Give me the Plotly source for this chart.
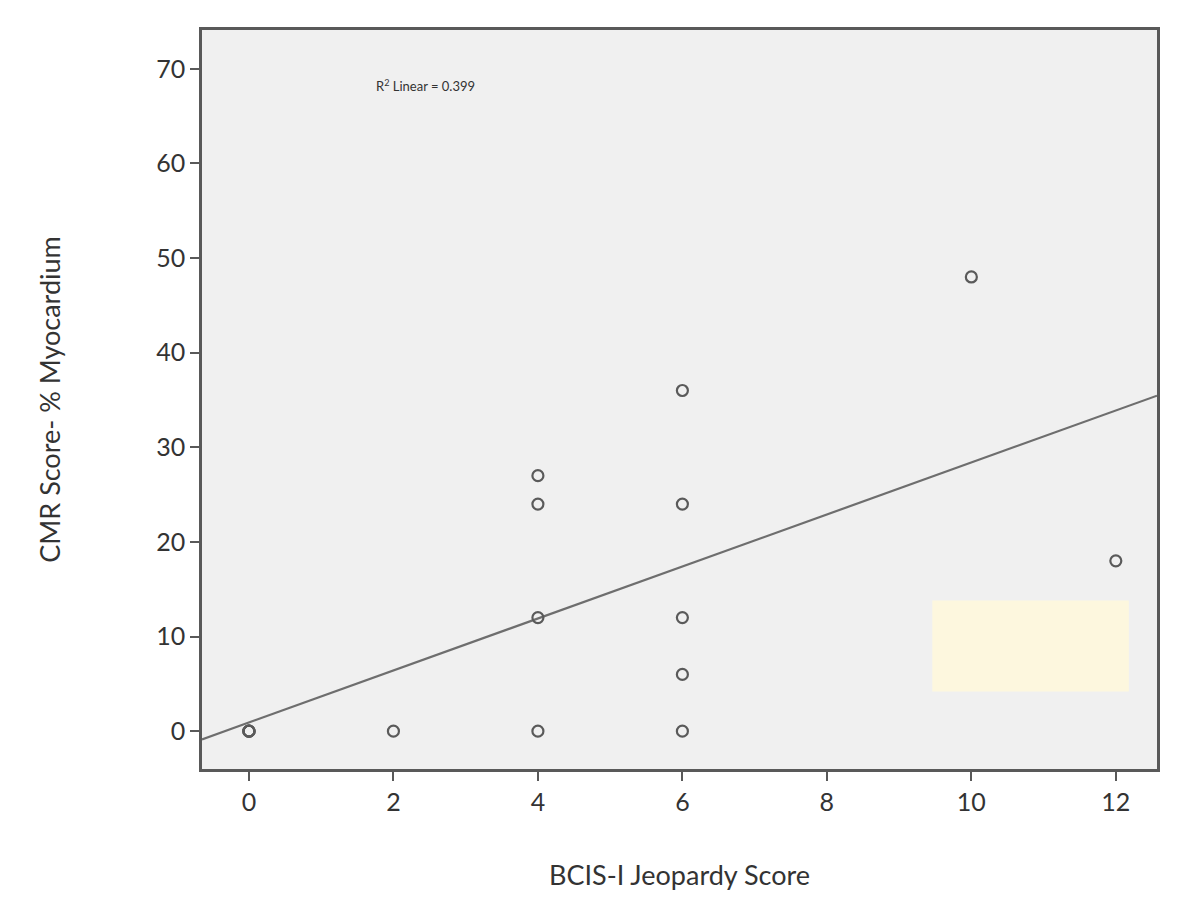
import numpy as np
import plotly.graph_objects as go

# Data (BCIS-I Jeopardy Score vs CMR Score)
bcis_score = [0, 0, 0, 0, 2, 4, 4, 4, 4, 6, 6, 6, 6, 6, 10, 12]
cmr_score = [0, 0, 0, 0, 0, 0, 12, 24, 27, 0, 6, 12, 24, 36, 48, 18]
x_ticks = [0, 2, 4, 6, 8, 10, 12]
y_ticks = [0, 10, 20, 30, 40, 50, 60, 70]
r2_label = "R<sup>2</sup> Linear = 0.399"

x_range = [-0.65, 12.57]
y_range = [-4.0, 74.1]

slope, intercept = np.polyfit(bcis_score, cmr_score, 1)
fit_x = np.array(x_range)
fit_y = slope * fit_x + intercept

fig = go.Figure()
fig.add_trace(go.Scatter(
    x=fit_x, y=fit_y, mode="lines",
    line=dict(color="#6e6e6e", width=2.2),
    showlegend=False, hoverinfo="skip",
))
fig.add_trace(go.Scatter(
    x=bcis_score, y=cmr_score, mode="markers",
    marker=dict(symbol="circle-open", size=11, color="#5a5a5a", line=dict(width=2.2, color="#5a5a5a")),
    showlegend=False,
))

# light yellow box in the lower right corner
fig.add_shape(type="rect", xref="x", yref="y", x0=9.46, x1=12.18, y0=4.2, y1=13.8,
              fillcolor="#fdf7de", line=dict(width=0), layer="above")

fig.add_annotation(
    x=0.18, y=0.925, xref="paper", yref="paper",
    text=r2_label, showarrow=False, xanchor="left", yanchor="middle",
    font=dict(size=13, color="#333333", family="Lato"),
)

axis_common = dict(
    showgrid=False, zeroline=False, showline=True, linecolor="#595959", linewidth=2.5,
    mirror=True, ticks="outside", ticklen=9, tickwidth=2, tickcolor="#595959",
    tickfont=dict(size=25, color="#333333", family="Lato"),
)

fig.update_layout(
    width=1200, height=905,
    margin=dict(l=194, r=51, t=22, b=144),
    paper_bgcolor="white", plot_bgcolor="#f0f0f0",
    font=dict(family="Lato", color="#333333"),
    xaxis=dict(range=x_range, tickvals=x_ticks, title=dict(text="BCIS-I Jeopardy Score", font=dict(size=27), standoff=52), **axis_common),
    yaxis=dict(range=y_range, tickvals=y_ticks, title=dict(text="CMR Score- % Myocardium", font=dict(size=27), standoff=88), **axis_common),
)

fig.write_html("out.html")
